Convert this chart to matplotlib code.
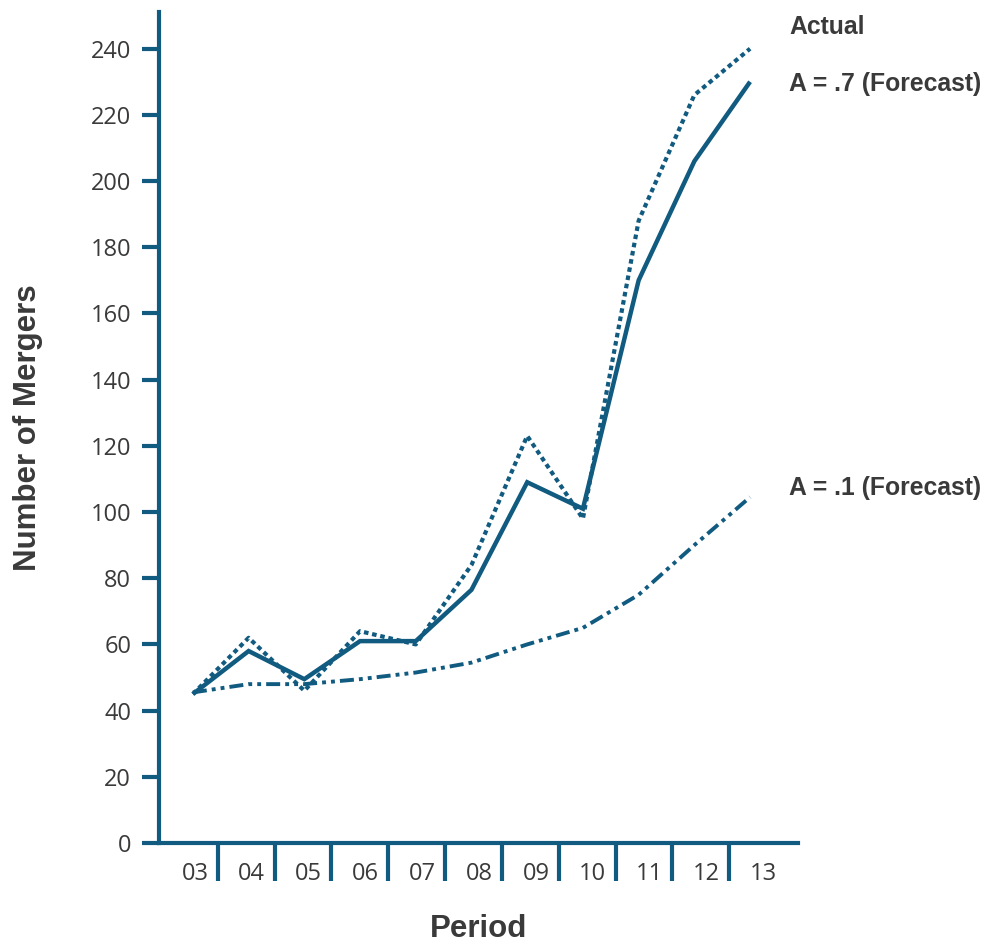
import numpy as np
import matplotlib
matplotlib.use("Agg")
import matplotlib.pyplot as plt

# --- data ---
periods = ["03", "04", "05", "06", "07", "08", "09", "10", "11", "12", "13"]
actual = [45, 62, 46, 64, 60, 84, 123, 98, 188, 226, 240]
forecast_a7 = [45, 58, 49.5, 61, 61, 76.5, 109, 101, 170, 206, 230]
forecast_a1 = [45.5, 48, 48, 49.5, 51.5, 54.5, 60, 65, 75, 90, 104.5]
yticks = list(range(0, 241, 20))

BLUE = "#115a80"
TEXT = "#3a3a3a"

fig = plt.figure(figsize=(9.87, 9.44), dpi=100)
ax = fig.add_axes([0.161, 0.107, 0.6475, 0.880])

x = np.arange(len(periods))
ax.plot(x, actual, color=BLUE, lw=3.0, linestyle=(0, (1.1, 0.9)),
        dash_capstyle="butt", solid_joinstyle="miter")
ax.plot(x, forecast_a7, color=BLUE, lw=3.2, solid_joinstyle="miter",
        solid_capstyle="butt")
ax.plot(x, forecast_a1, color=BLUE, lw=2.8,
        linestyle=(0, (3.6, 1.3, 1.0, 1.3, 1.0, 1.3)), dash_capstyle="butt")

ax.set_xlim(-0.61, 10.86)
ax.set_ylim(0, 251)

# labels sit slightly wider apart than the data points
label_pos = 0.036 + 1.02 * x
ax.set_xticks(label_pos)
ax.set_xticklabels(periods, fontsize=17, family="Open Sans", color=TEXT)
ax.tick_params(axis="x", which="major", length=0, pad=14)
ax.set_xticks(label_pos[:-1] + 0.41, minor=True)
ax.tick_params(axis="x", which="minor", length=27, width=3.0, color=BLUE,
               direction="out")

ax.set_yticks(yticks)
ax.set_yticklabels([str(v) for v in yticks], fontsize=17, family="Open Sans",
                   color=TEXT)
ax.tick_params(axis="y", length=12, width=3.0, color=BLUE, pad=8)

for side in ("top", "right"):
    ax.spines[side].set_visible(False)
for side in ("left", "bottom"):
    ax.spines[side].set_color(BLUE)
    ax.spines[side].set_linewidth(3.0)

ax.set_ylabel("Number of Mergers", fontsize=22.5, fontweight="bold",
              family="Liberation Sans", color=TEXT, labelpad=34)
ax.set_xlabel("Period", fontsize=22.5, fontweight="bold",
              family="Liberation Sans", color=TEXT, labelpad=20)

# series labels at the right
lab = dict(fontsize=17.8, fontweight="bold", family="Liberation Sans",
           color=TEXT, va="center", ha="left", clip_on=False)
fig.text(789 / 987, 1 - 27 / 944, "Actual", **lab)
fig.text(789 / 987, 1 - 84 / 944, "A = .7 (Forecast)", **lab)
fig.text(789 / 987, 1 - 488 / 944, "A = .1 (Forecast)", **lab)

fig.savefig("out.png", dpi=100)
